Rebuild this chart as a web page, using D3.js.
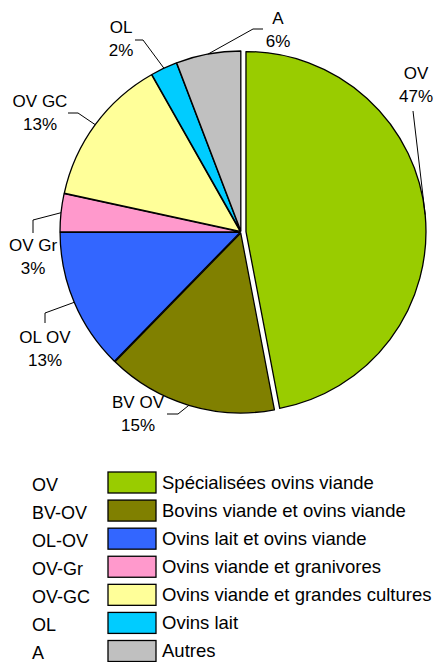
<!DOCTYPE html>
<html>
<head>
<meta charset="utf-8">
<script src="https://cdn.jsdelivr.net/npm/d3@7"></script>
<style>
  body { margin: 0; background: #fff; }
  text { font-family: "Liberation Sans", Arial, sans-serif; fill: #000; }
</style>
</head>
<body>
<script>
// pie of farm types (share of sheep farms)

var w = 437;
var h = 662;

// data
var codes = ["OV", "BV-OV", "OL-OV", "OV-Gr", "OV-GC", "OL", "A"];
var names = ["Spécialisées ovins viande", "Bovins viande et ovins viande", "Ovins lait et ovins viande",
             "Ovins viande et granivores", "Ovins viande et grandes cultures", "Ovins lait", "Autres"];
var shares = [47.0, 15.3, 12.7, 3.4, 13.4, 2.4, 5.8];
var colors = ["#99cc00", "#808000", "#3366ff", "#ff99cc", "#ffff99", "#00ccff", "#c0c0c0"];

// layout of the pie labels (text centre / first baseline, leader start and elbow)
var labelLayout = [
    {x: 416, y: 79,  start: [413, 111], elbow: [413, 111]},
    {x: 138, y: 408, start: [167, 414], elbow: [178, 414]},
    {x: 45,  y: 343, start: [45, 323],  elbow: [45, 313]},
    {x: 33,  y: 251, start: [33, 233],  elbow: [33, 220]},
    {x: 40,  y: 107, start: [68, 113],  elbow: [78, 113]},
    {x: 121, y: 33,  start: [135, 40],  elbow: [143, 40]},
    {x: 278, y: 24,  start: [263, 29],  elbow: [253, 29]}
];
var explode = [5, 1, 1, 1, 1, 1, 1];

var cx = 241, cy = 232, r = 180;

var svg = d3.select("body")
    .append("svg")
    .attr("width", w)
    .attr("height", h);

var data = codes.map(function(c, i) {
    return {code: c, name: names[i], value: shares[i], color: colors[i], i: i};
});

var pie = d3.pie()
    .sort(null)
    .value(function(d) { return d.value; });

var arcs = pie(data);

var arc = d3.arc().innerRadius(0).outerRadius(r);
var edge = d3.arc().innerRadius(r).outerRadius(r);

var g = svg.append("g")
    .attr("transform", "translate(" + cx + "," + cy + ")");

g.selectAll(".slice")
    .data(arcs)
    .enter()
    .append("path")
    .attr("class", "slice")
    .attr("d", arc)
    .attr("fill", function(d) { return d.data.color; })
    .attr("stroke", "#000")
    .attr("stroke-width", 1.3)
    .attr("stroke-linejoin", "round")
    .attr("transform", function(d) {
        var a = (d.startAngle + d.endAngle) / 2;
        var off = explode[d.data.i];
        return "translate(" + (Math.sin(a) * off) + "," + (-Math.cos(a) * off) + ")";
    });

// leader lines
svg.selectAll(".leader")
    .data(arcs)
    .enter()
    .append("polyline")
    .attr("class", "leader")
    .attr("fill", "none")
    .attr("stroke", "#000")
    .attr("stroke-width", 1)
    .attr("points", function(d) {
        var L = labelLayout[d.data.i];
        var c = edge.centroid(d);
        var off = explode[d.data.i];
        var a = (d.startAngle + d.endAngle) / 2;
        var ex = cx + c[0] + Math.sin(a) * off;
        var ey = cy + c[1] - Math.cos(a) * off;
        return [L.start, L.elbow, [ex, ey]].map(function(p) { return p.join(","); }).join(" ");
    });

// pie labels
var lab = svg.selectAll(".plabel")
    .data(arcs)
    .enter()
    .append("text")
    .attr("class", "plabel")
    .attr("text-anchor", "middle")
    .style("font-size", "17px");

lab.append("tspan")
    .attr("x", function(d) { return labelLayout[d.data.i].x; })
    .attr("y", function(d) { return labelLayout[d.data.i].y; })
    .text(function(d) { return d.data.code.replace("-", " "); });

lab.append("tspan")
    .attr("x", function(d) { return labelLayout[d.data.i].x; })
    .attr("y", function(d) { return labelLayout[d.data.i].y + 23; })
    .text(function(d) { return Math.round(d.data.value) + "%"; });

// legend
var y = d3.scalePoint()
    .domain(codes)
    .range([482.5, 651]);

var leg = svg.selectAll(".legend")
    .data(data)
    .enter()
    .append("g")
    .attr("class", "legend")
    .attr("transform", function(d) { return "translate(0," + y(d.code) + ")"; });

leg.append("text")
    .attr("x", 32)
    .attr("y", 2)
    .attr("dy", "0.35em")
    .style("font-size", "18px")
    .text(function(d) { return d.code; });

leg.append("rect")
    .attr("x", 108)
    .attr("y", -10.5)
    .attr("width", 48)
    .attr("height", 21)
    .attr("fill", function(d) { return d.color; })
    .attr("stroke", "#000")
    .attr("stroke-width", 1.3);

leg.append("text")
    .attr("x", 162)
    .attr("y", 0)
    .attr("dy", "0.35em")
    .style("font-size", "18.5px")
    .text(function(d) { return d.name; });
</script>
</body>
</html>
